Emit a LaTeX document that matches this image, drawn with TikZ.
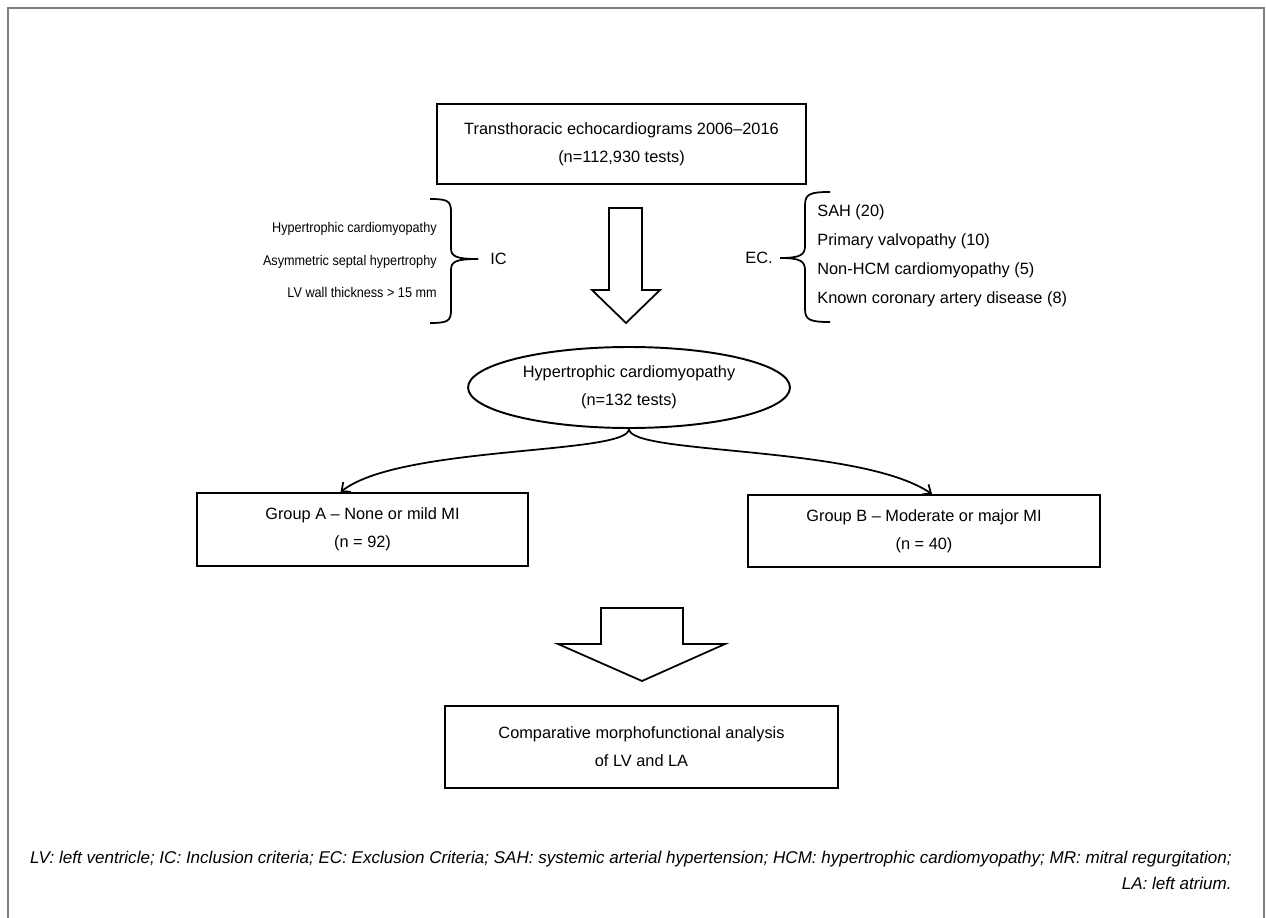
\documentclass[tikz,border=0pt]{standalone}
\usepackage{fontspec}
\setmainfont{Liberation Sans}
\newfontfamily\listfont{Liberation Sans}[FakeStretch=0.9]
\usetikzlibrary{calc,arrows.meta,shapes.geometric}

\begin{document}
\begin{tikzpicture}[x=0.02cm, y=-0.02cm,
  box/.style={draw, line width=1pt, align=center, inner sep=0pt, font=\fontsize{9.3}{16}\selectfont},
  oval/.style={draw, ellipse, line width=1.1pt, align=center, inner sep=0pt, font=\fontsize{9.3}{16}\selectfont},
  bigarrow/.style={draw, line width=1pt, fill=white, line join=miter},
  bracket/.style={draw, line width=1pt},
  branch/.style={line width=1pt, -{Straight Barb[length=4pt,width=7pt]}}]
\useasboundingbox (0, 0) rectangle (1266, 918);
\draw [gray, line width=1.2pt] (8, 918) -- (8, 8) -- (1264, 8) -- (1264, 918);

\node [box, minimum width=7.38cm, minimum height=1.6cm] (tte) at (621.5, 144) {Transthoracic echocardiograms 2006--2016\\(n=112,930 tests)};

% inclusion criteria
\node [anchor=east, align=right, inner sep=0pt, font=\listfont\fontsize{8}{18.5}\selectfont] (icList) at (437, 260) {Hypertrophic cardiomyopathy\\Asymmetric septal hypertrophy\\LV wall thickness > 15 mm};
\draw [bracket] (430, 199) .. controls (448, 199) and (451, 201) .. (451, 212) -- (451, 248) .. controls (451, 256) and (455, 259) .. (478, 259);
\draw [bracket] (430, 323) .. controls (448, 323) and (451, 321) .. (451, 310) -- (451, 270) .. controls (451, 262) and (455, 259) .. (478, 259);
\node [anchor=west, inner sep=0pt, font=\fontsize{9.3}{12}\selectfont] (ic) at (490, 259) {IC};

% exclusion criteria
\node [anchor=west, align=left, inner sep=0pt, font=\fontsize{9.3}{16.6}\selectfont] (ecList) at (817, 256) {SAH (20)\\Primary valvopathy (10)\\Non-HCM cardiomyopathy (5)\\Known coronary artery disease (8)};
\draw [bracket] (830, 192) .. controls (810, 192) and (805, 194) .. (805, 205) -- (805, 246) .. controls (805, 255) and (800, 258) .. (780, 258);
\draw [bracket] (830, 322) .. controls (810, 322) and (805, 320) .. (805, 309) -- (805, 270) .. controls (805, 261) and (800, 258) .. (780, 258);
\node [anchor=east, inner sep=0pt, font=\fontsize{9.3}{12}\selectfont] (ec) at (773, 258) {EC.};

\draw [bigarrow] (609, 208) -- (642, 208) -- (642, 290) -- (660, 290) -- (626, 323) -- (592, 290) -- (609, 290) -- cycle;

\node [oval, minimum width=6.44cm, minimum height=1.62cm] (hcm) at (629, 387.5) {Hypertrophic cardiomyopathy\\(n=132 tests)};

\node [box, minimum width=6.62cm, minimum height=1.46cm] (grpA) at (362.5, 529.5) {Group A -- None or mild MI\\(n = 92)};
\node [box, minimum width=7.04cm, minimum height=1.44cm] (grpB) at (924, 531) {Group B -- Moderate or major MI\\(n = 40)};

\draw [branch] (hcm.south) .. controls (629, 455) and (400, 445) .. ($(grpA.north)+(-22, 0)$);
\draw [branch] (hcm.south) .. controls (629, 455) and (860, 445) .. ($(grpB.north)+(8, 0)$);

\draw [bigarrow] (601, 608) -- (683, 608) -- (683, 644) -- (725, 644) -- (642, 681) -- (558, 644) -- (601, 644) -- cycle;

\node [box, minimum width=7.86cm, minimum height=1.64cm] (analysis) at (641.5, 747) {Comparative morphofunctional analysis\\of LV and LA};

\node [anchor=east, align=right, inner sep=0pt, font=\fontsize{9.7}{14.7}\selectfont\itshape] (legend) at (1232, 870) {LV: left ventricle; IC: Inclusion criteria; EC: Exclusion Criteria; SAH: systemic arterial hypertension; HCM: hypertrophic cardiomyopathy; MR: mitral regurgitation;\\LA: left atrium.};
\end{tikzpicture}
\end{document}
